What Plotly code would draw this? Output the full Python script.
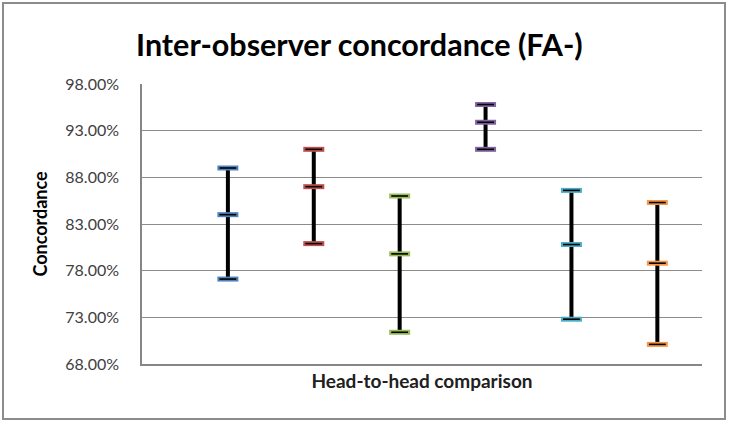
import plotly.graph_objects as go

# Data
comparisons = [1, 2, 3, 4, 5, 6]
highs = [89.0, 91.0, 86.0, 95.8, 86.6, 85.3]
mids = [84.0, 87.0, 79.8, 93.9, 80.8, 78.8]
lows = [77.1, 80.9, 71.4, 91.0, 72.8, 70.1]
colors = ["#4F81BD", "#C0504D", "#9BBB59", "#8064A2", "#4BACC6", "#F79646"]
tick_vals = [68, 73, 78, 83, 88, 93, 98]
tick_text = ["68.00%", "73.00%", "78.00%", "83.00%", "88.00%", "93.00%", "98.00%"]

fig = go.Figure()

for i, x in enumerate(comparisons):
    # vertical range line
    fig.add_trace(go.Scatter(
        x=[x], y=[mids[i]], mode="markers",
        marker=dict(size=1, color="rgba(0,0,0,0)"),
        error_y=dict(type="data", symmetric=False,
                     array=[highs[i] - mids[i]], arrayminus=[mids[i] - lows[i]],
                     color="black", thickness=4, width=0),
        showlegend=False, hoverinfo="skip"))
    ys = [lows[i], mids[i], highs[i]]
    # colored caps
    fig.add_trace(go.Scatter(
        x=[x] * 3, y=ys, mode="markers",
        marker=dict(symbol="line-ew", size=15, line=dict(width=5, color=colors[i])),
        showlegend=False, hoverinfo="skip"))
    # black center of caps
    fig.add_trace(go.Scatter(
        x=[x] * 3, y=ys, mode="markers",
        marker=dict(symbol="line-ew", size=12, line=dict(width=1.6, color="black")),
        showlegend=False, hoverinfo="skip"))

fig.update_layout(
    width=729, height=423,
    margin=dict(l=142, r=27, t=84, b=59),
    paper_bgcolor="white", plot_bgcolor="white",
    title=dict(text="<b>Inter-observer concordance (FA-)</b>",
               font=dict(family="Lato", size=30.5, color="black"),
               x=0.493, xanchor="center", xref="container", y=1 - 45 / 423, yanchor="middle"),
    xaxis=dict(range=[0, 6.52], showticklabels=False, showgrid=False, zeroline=False,
               showline=True, linecolor="#868686", linewidth=1.5, ticks="",
               title=dict(text="<b>Head-to-head comparison</b>",
                          font=dict(family="Lato", size=19, color="#202020"),
                          standoff=10)),
    yaxis=dict(range=[68, 98], tickvals=tick_vals, ticktext=tick_text,
               showgrid=True, gridcolor="#8C8C8C", gridwidth=1.2, zeroline=False,
               showline=True, linecolor="#868686", linewidth=1.5, ticks="",
               tickfont=dict(family="Lato", size=16, color="#404040"),
               ticklabelstandoff=18,
               title=dict(text="<b>Concordance</b>",
                          font=dict(family="Lato", size=18, color="black"),
                          standoff=13)),
    shapes=[dict(type="rect", xref="paper", yref="paper",
                 x0=(3 - 142) / 560, x1=(725 - 142) / 560,
                 y0=(364 - 419) / 280, y1=(364 - 3) / 280,
                 line=dict(color="#8C8C8C", width=2), fillcolor="rgba(0,0,0,0)",
                 layer="below")],
)

fig.write_html("out.html", config={"displayModeBar": False},
               post_script="document.body.style.margin='0';document.body.style.overflow='hidden';")
